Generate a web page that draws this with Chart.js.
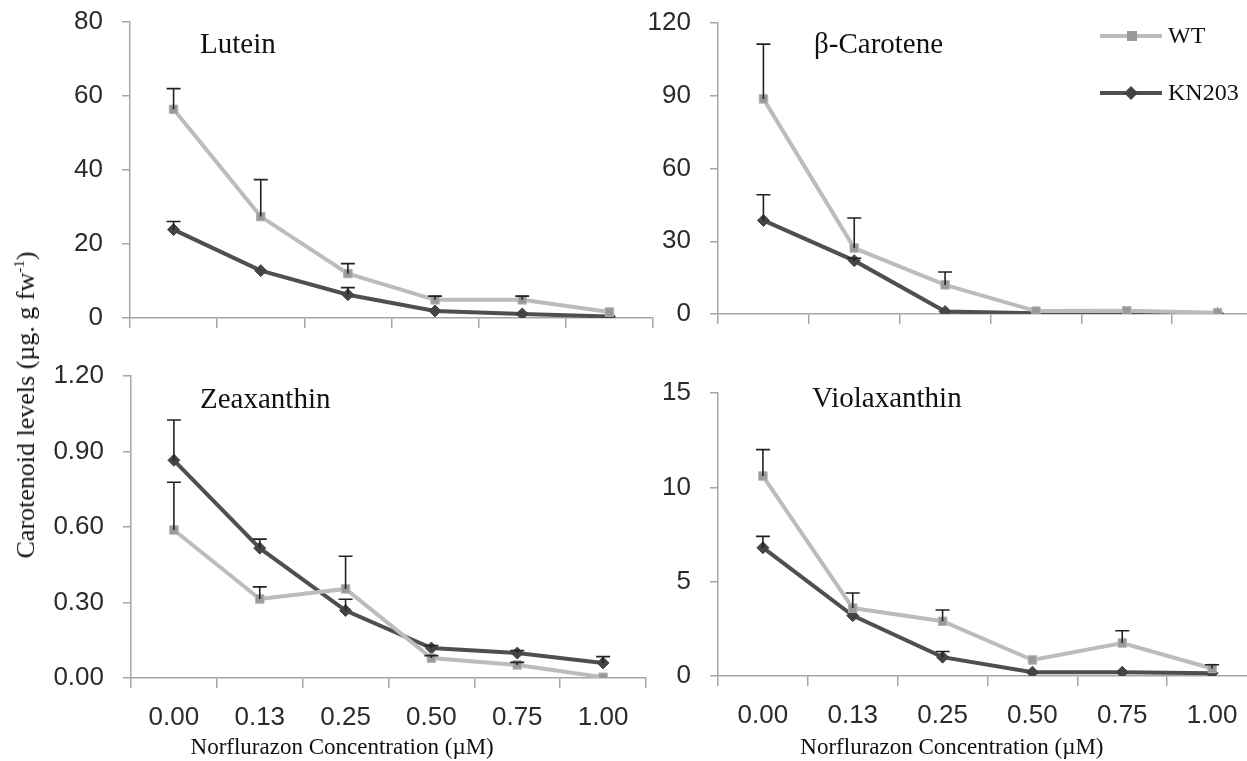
<!DOCTYPE html>
<html>
<head>
<meta charset="utf-8">
<script src="https://cdn.jsdelivr.net/npm/chart.js@4.4.1/dist/chart.umd.min.js"></script>
<style>
  html, body { margin: 0; padding: 0; background: #fff; overflow: hidden; }
  body { position: relative; width: 1247px; height: 761px; }
  canvas { position: absolute; }
  #ytitle {
    position: absolute; left: 26px; top: 405px;
    transform: translate(-50%, -50%) rotate(-90deg);
    white-space: nowrap; font-family: "Liberation Serif", serif; font-size: 26px; color: #111;
  }
  #ytitle sup { font-size: 15px; }
</style>
</head>
<body>
<canvas id="lutein" width="660" height="345" style="left:0;top:0"></canvas>
<canvas id="beta" width="650" height="345" style="left:620px;top:0"></canvas>
<canvas id="zea" width="660" height="416" style="left:0;top:345px"></canvas>
<canvas id="viola" width="650" height="416" style="left:620px;top:345px"></canvas>
<div id="ytitle">Carotenoid levels (µg. g fw<sup>-1</sup>)</div>
<script>
const concentrations = ['0.00', '0.13', '0.25', '0.50', '0.75', '1.00'];

const luteinWT = [56.4, 27.4, 12.0, 4.9, 4.9, 1.6];
const luteinWTErr = [5.6, 10.0, 2.7, 1.0, 1.0, 0.5];
const luteinKN = [23.9, 12.8, 6.3, 1.9, 1.1, 0.4];
const luteinKNErr = [2.2, 0.5, 1.9, 0.5, 0.3, 0.2];

const betaWT = [88.7, 27.2, 12.0, 1.2, 1.3, 0.5];
const betaWTErr = [22.6, 12.4, 5.3, 0.5, 0.5, 0.3];
const betaKN = [38.6, 22.0, 1.0, 0.3, 0.3, 0.2];
const betaKNErr = [10.6, 1.0, 0.5, 0.2, 0.2, 0.1];

const zeaWT = [0.588, 0.314, 0.354, 0.079, 0.052, 0.003];
const zeaWTErr = [0.19, 0.048, 0.13, 0.01, 0.01, 0.005];
const zeaKN = [0.865, 0.516, 0.268, 0.119, 0.099, 0.060];
const zeaKNErr = [0.16, 0.036, 0.045, 0.01, 0.01, 0.025];

const violaWT = [10.6, 3.6, 2.9, 0.85, 1.75, 0.4];
const violaWTErr = [1.4, 0.8, 0.6, 0.1, 0.65, 0.2];
const violaKN = [6.8, 3.2, 1.0, 0.2, 0.2, 0.15];
const violaKNErr = [0.6, 0.1, 0.3, 0.05, 0.05, 0.05];

const axisGray = '#a6a6a6';
const tickFont = {family: '"Liberation Sans", Arial, sans-serif', size: 26};
const serif = '"Liberation Serif", "Times New Roman", serif';

// error bars (upper only) + panel name + optional legend / x title
const panelDecor = {
    id: 'panelDecor',
    afterDatasetsDraw(chart, args, opts) {
        const ctx = chart.ctx;
        const y = chart.scales.y;
        const area = chart.chartArea;
        ctx.save();
        ctx.strokeStyle = '#222';
        ctx.lineWidth = 1.6;
        chart.data.datasets.forEach((ds, i) => {
            const meta = chart.getDatasetMeta(i);
            meta.data.forEach((pt, j) => {
                const top = y.getPixelForValue(ds.data[j] + ds.errors[j]);
                if (pt.y - top < 2) return;
                ctx.beginPath();
                ctx.moveTo(pt.x, pt.y);
                ctx.lineTo(pt.x, top);
                ctx.moveTo(pt.x - 7, top);
                ctx.lineTo(pt.x + 7, top);
                ctx.stroke();
            });
        });

        ctx.fillStyle = '#111';
        ctx.font = '29px ' + serif;
        ctx.textBaseline = 'middle';
        ctx.textAlign = 'left';
        ctx.fillText(opts.name, area.left + opts.nameDx, area.top + opts.nameDy);

        if (opts.xTitle) {
            ctx.font = '23px ' + serif;
            ctx.textAlign = 'center';
            ctx.fillText('Norflurazon Concentration (µM)', area.left + area.width * opts.xTitle, chart.height - 13);
        }

        if (opts.legend) {
            ctx.textAlign = 'left';
            ctx.font = '24px ' + serif;
            chart.data.datasets.forEach((ds, i) => {
                const ly = 36 + i * 57;
                const x0 = area.right - 163;
                ctx.strokeStyle = ds.borderColor;
                ctx.lineWidth = 4;
                ctx.beginPath();
                ctx.moveTo(x0, ly);
                ctx.lineTo(x0 + 62, ly);
                ctx.stroke();
                ctx.fillStyle = ds.pointBackgroundColor;
                ctx.beginPath();
                if (ds.pointStyle === 'rect') {
                    ctx.rect(x0 + 27, ly - 5, 10, 10);
                } else {
                    ctx.moveTo(x0 + 31, ly - 7);
                    ctx.lineTo(x0 + 38, ly);
                    ctx.lineTo(x0 + 31, ly + 7);
                    ctx.lineTo(x0 + 24, ly);
                    ctx.closePath();
                }
                ctx.fill();
                ctx.fillStyle = '#111';
                ctx.fillText(ds.label, x0 + 68, ly + 1);
            });
        }
        ctx.restore();
    }
};

function makePanel(id, p) {
    new Chart(document.getElementById(id), {
        type: 'line',
        data: {
            labels: concentrations,
            datasets: [
                {
                    label: 'WT', data: p.wt, errors: p.wtErr,
                    borderColor: '#bcbcbc', borderWidth: 4,
                    pointStyle: 'rect', pointRadius: 6,
                    pointBackgroundColor: '#999999', pointBorderColor: '#b5b5b5', pointBorderWidth: 1
                },
                {
                    label: 'KN203', data: p.kn, errors: p.knErr,
                    borderColor: '#4f4f4f', borderWidth: 4,
                    pointStyle: 'rectRot', pointRadius: 6,
                    pointBackgroundColor: '#444444', pointBorderColor: '#444444', pointBorderWidth: 1
                }
            ]
        },
        options: {
            responsive: false,
            animation: false,
            layout: {padding: {top: p.top, right: p.right, left: 0, bottom: 0}},
            plugins: {
                legend: {display: false},
                tooltip: {enabled: false},
                panelDecor: p.decor
            },
            scales: {
                x: {
                    offset: true,
                    afterFit: s => { s.height = p.xHeight; s.paddingLeft = 0; s.paddingRight = 0; },
                    border: {color: axisGray, width: 1.5},
                    grid: {offset: true, drawOnChartArea: false, drawTicks: true, tickLength: 10, color: axisGray, lineWidth: 1.5},
                    ticks: {display: p.showX, font: tickFont, color: '#2b2b2b', padding: 14, maxRotation: 0}
                },
                y: {
                    min: 0, max: p.max,
                    afterFit: s => { s.width = p.yWidth; s.paddingTop = 0; s.paddingBottom = 0; },
                    border: {color: axisGray, width: 1.5},
                    grid: {drawOnChartArea: false, drawTicks: true, tickLength: 8, color: axisGray, lineWidth: 1.5},
                    ticks: {
                        stepSize: p.step, font: tickFont, color: '#2b2b2b', padding: 19,
                        callback: v => p.decimals ? v.toFixed(p.decimals) : v
                    }
                }
            }
        },
        plugins: [panelDecor]
    });
}

makePanel('lutein', {
    wt: luteinWT, wtErr: luteinWTErr, kn: luteinKN, knErr: luteinKNErr,
    max: 80, step: 20, top: 22, right: 3, yWidth: 130, xHeight: 27, showX: false,
    decor: {name: 'Lutein', nameDx: 70, nameDy: 23}
});
makePanel('beta', {
    wt: betaWT, wtErr: betaWTErr, kn: betaKN, knErr: betaKNErr,
    max: 120, step: 30, top: 23, right: 7, yWidth: 98, xHeight: 31, showX: false,
    decor: {name: 'β-Carotene', nameDx: 96, nameDy: 22, legend: true}
});
makePanel('zea', {
    wt: zeaWT, wtErr: zeaWTErr, kn: zeaKN, knErr: zeaKNErr,
    max: 1.2, step: 0.3, decimals: 2, top: 31, right: 14, yWidth: 131, xHeight: 83, showX: true,
    decor: {name: 'Zeaxanthin', nameDx: 69, nameDy: 24, xTitle: 0.41}
});
makePanel('viola', {
    wt: violaWT, wtErr: violaWTErr, kn: violaKN, knErr: violaKNErr,
    max: 15, step: 5, top: 48, right: 13, yWidth: 98, xHeight: 85, showX: true,
    decor: {name: 'Violaxanthin', nameDx: 94, nameDy: 6, xTitle: 0.434}
});
</script>
</body>
</html>
